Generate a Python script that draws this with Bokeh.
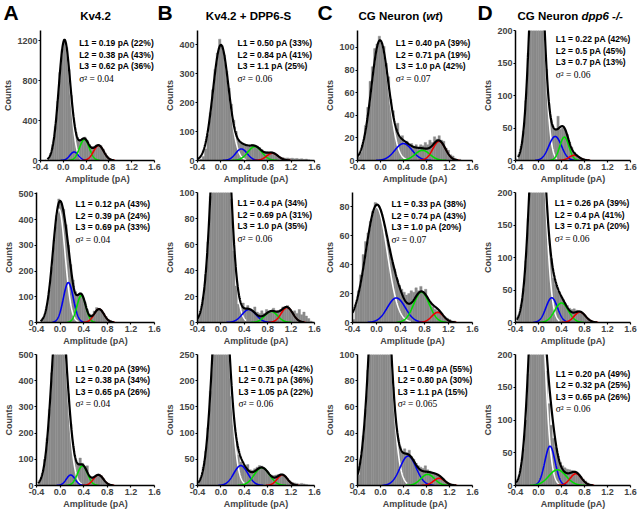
import numpy as np
from bokeh.plotting import figure
from bokeh.layouts import column, row
from bokeh.models import Label, FixedTicker, PrintfTickFormatter, Range1d
from bokeh.embed import file_html
from bokeh.resources import INLINE

# ------------------------------------------------------------------ data
BIN_CENTERS = [-0.38, -0.34, -0.30, -0.26, -0.22, -0.18, -0.14, -0.10, -0.06, -0.02,
               0.02, 0.06, 0.10, 0.14, 0.18, 0.22, 0.26, 0.30, 0.34, 0.38,
               0.42, 0.46, 0.50, 0.54, 0.58, 0.62, 0.66, 0.70, 0.74, 0.78,
               0.82, 0.86, 0.90, 0.94, 0.98, 1.02, 1.06, 1.10, 1.14, 1.18,
               1.22, 1.26, 1.30, 1.34, 1.38, 1.42, 1.46, 1.50, 1.54, 1.58]
BIN_WIDTH = 0.04
X_TICKS = [-0.4, 0.0, 0.4, 0.8, 1.2, 1.6]
X_LABEL = "Amplitude (pA)"
Y_LABEL = "Counts"
PANEL_LETTERS = ["A", "B", "C", "D"]
COLUMN_TITLES = [
    [("Kv4.2", "bold")],
    [("Kv4.2 + DPP6-S", "bold")],
    [("CG Neuron (", "bold"), ("wt", "bold italic"), (")", "bold")],
    [("CG Neuron ", "bold"), ("dpp6 -/-", "bold italic")],
]

# Gaussian fit components: [amplitude (counts), centre (pA), s.d. (pA)]
# ---- row 1
HIST_A1 = [0, 0, 6, 26, 70, 165, 340, 590, 880, 1110,
           1215, 1130, 910, 650, 420, 285, 215, 200, 215, 235,
           200, 160, 140, 140, 155, 160, 150, 115, 75, 40,
           18, 6, 3, 1, 0, 0, 0, 0, 0, 0,
           0, 0, 0, 0, 0, 0, 0, 0, 0, 0]
WHITE_A1 = [1200, 0.02, 0.10]
BLUE_A1 = [85, 0.19, 0.075]
GREEN_A1 = [210, 0.37, 0.085]
RED_A1 = [150, 0.62, 0.09]
TEXT_A1 = ["L1 = 0.19 pA (22%)", "L2 = 0.38 pA (43%)", "L3 = 0.62 pA (36%)"]
SIGMA_A1 = "σ² = 0.04"
YMAX_A1 = 1300
YTICKS_A1 = [0, 400, 800, 1200]

HIST_B1 = [1, 4, 14, 40, 90, 165, 245, 315, 372, 420,
           398, 365, 310, 250, 195, 140, 100, 72, 60, 55,
           50, 48, 52, 55, 53, 50, 45, 38, 32, 30,
           28, 30, 27, 22, 16, 12, 10, 8, 9, 7,
           8, 6, 7, 5, 6, 4, 5, 3, 1, 0]
WHITE_B1 = [400, 0.0, 0.135]
BLUE_B1 = [40, 0.35, 0.10]
GREEN_B1 = [48, 0.58, 0.12]
RED_B1 = [25, 0.88, 0.10]
TEXT_B1 = ["L1 = 0.50 pA (33%)", "L2 = 0.84 pA (41%)", "L3 = 1.1 pA (25%)"]
SIGMA_B1 = "σ² = 0.06"
YMAX_B1 = 450
YTICKS_B1 = [0, 100, 200, 300, 400]

HIST_C1 = [3, 7, 15, 31, 47, 70, 83, 99, 103, 110,
           104, 101, 86, 74, 54, 44, 29, 33, 20, 22,
           15, 17, 13, 15, 12, 14, 11, 14, 13, 16,
           14, 18, 16, 21, 19, 22, 18, 17, 11, 9,
           5, 4, 2, 1, 1, 0, 0, 0, 0, 0]
WHITE_C1 = [106, -0.01, 0.15]
BLUE_C1 = [15, 0.40, 0.15]
GREEN_C1 = [9, 0.73, 0.13]
RED_C1 = [17, 1.02, 0.11]
TEXT_C1 = ["L1 = 0.40 pA (39%)", "L2 = 0.71 pA (19%)", "L3 = 1.0 pA (42%)"]
SIGMA_C1 = "σ² = 0.07"
YMAX_C1 = 115
YTICKS_C1 = [0, 20, 40, 60, 80, 100]

HIST_D1 = [3, 9, 22, 45, 92, 165, 260, 350, 410, 420,
           380, 300, 215, 140, 88, 62, 50, 47, 68, 48,
           50, 47, 40, 28, 20, 13, 9, 6, 4, 3,
           2, 1, 0, 0, 0, 0, 0, 0, 0, 0,
           0, 0, 0, 0, 0, 0, 0, 0, 0, 0]
WHITE_D1 = [420, -0.03, 0.11]
BLUE_D1 = [37, 0.29, 0.11]
GREEN_D1 = [36, 0.45, 0.08]
RED_D1 = [8, 0.62, 0.09]
TEXT_D1 = ["L1 = 0.22 pA (42%)", "L2 = 0.5 pA (45%)", "L3 = 0.7 pA (13%)"]
SIGMA_D1 = "σ² = 0.06"
YMAX_D1 = 200
YTICKS_D1 = [0, 50, 100, 150, 200]

# ---- row 2
HIST_A2 = [1, 3, 10, 27, 62, 125, 215, 320, 415, 480,
           462, 440, 380, 300, 225, 165, 120, 108, 115, 103,
           80, 50, 33, 30, 45, 58, 55, 48, 35, 22,
           12, 8, 3, 1, 0, 0, 0, 0, 0, 0,
           0, 0, 0, 0, 0, 0, 0, 0, 0, 0]
WHITE_A2 = [440, -0.02, 0.105]
BLUE_A2 = [155, 0.14, 0.085]
GREEN_A2 = [105, 0.36, 0.075]
RED_A2 = [52, 0.66, 0.085]
TEXT_A2 = ["L1 = 0.12 pA (43%)", "L2 = 0.39 pA (24%)", "L3 = 0.69 pA (33%)"]
SIGMA_A2 = "σ² = 0.04"
YMAX_A2 = 505
YTICKS_A2 = [0, 100, 200, 300, 400, 500]

HIST_B2 = [4, 9, 19, 37, 62, 97, 140, 185, 215, 235,
           235, 215, 180, 135, 95, 55, 28, 14, 12, 15,
           11, 13, 10, 9, 12, 8, 7, 9, 7, 10,
           8, 9, 11, 8, 9, 10, 12, 11, 13, 10,
           8, 9, 7, 10, 6, 8, 5, 3, 1, 0]
WHITE_B2 = [240, 0.0, 0.135]
BLUE_B2 = [10, 0.48, 0.12]
GREEN_B2 = [8.5, 0.86, 0.11]
RED_B2 = [11.5, 1.13, 0.10]
TEXT_B2 = ["L1 = 0.4 pA (34%)", "L2 = 0.69 pA (31%)", "L3 = 1.0 pA (35%)"]
SIGMA_B2 = "σ² = 0.06"
YMAX_B2 = 100
YTICKS_B2 = [0, 20, 40, 60, 80, 100]

HIST_C2 = [2, 12, 22, 33, 47, 56, 62, 70, 77, 83,
           80, 78, 72, 64, 57, 51, 42, 37, 30, 26,
           23, 21, 19, 20, 22, 21, 24, 22, 25, 21,
           23, 16, 14, 11, 9, 8, 6, 5, 4, 3,
           2, 1, 1, 0, 0, 0, 0, 0, 0, 0]
WHITE_C2 = [80, 0.0, 0.18]
BLUE_C2 = [17, 0.33, 0.15]
GREEN_C2 = [21, 0.75, 0.13]
RED_C2 = [7, 1.02, 0.10]
TEXT_C2 = ["L1 = 0.33 pA (38%)", "L2 = 0.74 pA (43%)", "L3 = 1.0 pA (20%)"]
SIGMA_C2 = "σ² = 0.07"
YMAX_C2 = 90
YTICKS_C2 = [0, 20, 40, 60, 80]

HIST_D2 = [4, 12, 27, 52, 95, 160, 240, 320, 375, 400,
           390, 330, 250, 180, 130, 98, 68, 58, 48, 42,
           36, 30, 26, 22, 20, 21, 19, 16, 15, 12,
           9, 6, 3, 1, 0, 0, 0, 0, 0, 0,
           0, 0, 0, 0, 0, 0, 0, 0, 0, 0]
WHITE_D2 = [400, -0.02, 0.12]
BLUE_D2 = [38, 0.23, 0.10]
GREEN_D2 = [30, 0.40, 0.12]
RED_D2 = [16, 0.72, 0.10]
TEXT_D2 = ["L1 = 0.26 pA (39%)", "L2 = 0.4 pA  (41%)", "L3 = 0.71 pA (20%)"]
SIGMA_D2 = "σ² = 0.06"
YMAX_D2 = 200
YTICKS_D2 = [0, 50, 100, 150, 200]

# ---- row 3
HIST_A3 = [5, 18, 45, 100, 180, 290, 430, 580, 700, 750,
           735, 650, 500, 350, 235, 150, 98, 80, 105, 85,
           72, 75, 35, 30, 32, 40, 44, 38, 25, 12,
           5, 2, 1, 0, 0, 0, 0, 0, 0, 0,
           0, 0, 0, 0, 0, 0, 0, 0, 0, 0]
WHITE_A3 = [750, -0.015, 0.12]
BLUE_A3 = [40, 0.18, 0.075]
GREEN_A3 = [75, 0.38, 0.085]
RED_A3 = [40, 0.65, 0.085]
TEXT_A3 = ["L1 = 0.20 pA (39%)", "L2 = 0.38 pA (34%)", "L3 = 0.65 pA (26%)"]
SIGMA_A3 = "σ² = 0.04"
YMAX_A3 = 500
YTICKS_A3 = [0, 100, 200, 300, 400, 500]

HIST_B3 = [5, 14, 35, 65, 110, 180, 265, 360, 430, 470,
           465, 425, 350, 260, 170, 115, 80, 58, 45, 40,
           37, 40, 30, 29, 32, 35, 38, 37, 33, 27,
           22, 20, 19, 20, 21, 22, 20, 17, 13, 9,
           6, 5, 4, 3, 4, 3, 2, 1, 0, 0]
WHITE_B3 = [470, 0.0, 0.13]
BLUE_B3 = [38, 0.34, 0.12]
GREEN_B3 = [34, 0.70, 0.13]
RED_B3 = [20, 1.05, 0.09]
TEXT_B3 = ["L1 = 0.35 pA (42%)", "L2 = 0.71 pA (36%)", "L3 = 1.05 pA (22%)"]
SIGMA_B3 = "σ² = 0.06"
YMAX_B3 = 250
YTICKS_B3 = [0, 50, 100, 150, 200, 250]

HIST_C3 = [8, 20, 38, 58, 88, 125, 165, 200, 230, 242,
           238, 215, 185, 145, 105, 75, 50, 37, 30, 26,
           28, 25, 27, 22, 20, 17, 15, 14, 13, 15,
           12, 11, 10, 9, 8, 7, 6, 5, 3, 2,
           1, 1, 0, 0, 0, 0, 0, 0, 0, 0]
WHITE_C3 = [240, -0.01, 0.15]
BLUE_C3 = [22.5, 0.48, 0.14]
GREEN_C3 = [8.5, 0.82, 0.12]
RED_C3 = [5.5, 1.02, 0.10]
TEXT_C3 = ["L1 = 0.49 pA (55%)", "L2 = 0.80 pA (30%)", "L3 = 1.1 pA (15%)"]
SIGMA_C3 = "σ² = 0.065"
YMAX_C3 = 100
YTICKS_C3 = [0, 20, 40, 60, 80, 100]

HIST_D3 = [4, 12, 28, 55, 100, 170, 250, 330, 380, 400,
           370, 320, 240, 175, 125, 92, 72, 58, 45, 36,
           30, 27, 25, 24, 23, 22, 20, 17, 13, 10,
           7, 4, 2, 1, 0, 0, 0, 0, 0, 0,
           0, 0, 0, 0, 0, 0, 0, 0, 0, 0]
WHITE_D3 = [400, -0.03, 0.12]
BLUE_D3 = [60, 0.20, 0.09]
GREEN_D3 = [24, 0.33, 0.15]
RED_D3 = [18, 0.65, 0.10]
TEXT_D3 = ["L1 = 0.20 pA (49%)", "L2 = 0.32 pA (25%)", "L3 = 0.65 pA (26%)"]
SIGMA_D3 = "σ² = 0.06"
YMAX_D3 = 200
YTICKS_D3 = [0, 50, 100, 150, 200]

PANELS = [
    [(HIST_A1, [WHITE_A1, BLUE_A1, GREEN_A1, RED_A1], TEXT_A1, SIGMA_A1, YMAX_A1, YTICKS_A1),
     (HIST_B1, [WHITE_B1, BLUE_B1, GREEN_B1, RED_B1], TEXT_B1, SIGMA_B1, YMAX_B1, YTICKS_B1),
     (HIST_C1, [WHITE_C1, BLUE_C1, GREEN_C1, RED_C1], TEXT_C1, SIGMA_C1, YMAX_C1, YTICKS_C1),
     (HIST_D1, [WHITE_D1, BLUE_D1, GREEN_D1, RED_D1], TEXT_D1, SIGMA_D1, YMAX_D1, YTICKS_D1)],
    [(HIST_A2, [WHITE_A2, BLUE_A2, GREEN_A2, RED_A2], TEXT_A2, SIGMA_A2, YMAX_A2, YTICKS_A2),
     (HIST_B2, [WHITE_B2, BLUE_B2, GREEN_B2, RED_B2], TEXT_B2, SIGMA_B2, YMAX_B2, YTICKS_B2),
     (HIST_C2, [WHITE_C2, BLUE_C2, GREEN_C2, RED_C2], TEXT_C2, SIGMA_C2, YMAX_C2, YTICKS_C2),
     (HIST_D2, [WHITE_D2, BLUE_D2, GREEN_D2, RED_D2], TEXT_D2, SIGMA_D2, YMAX_D2, YTICKS_D2)],
    [(HIST_A3, [WHITE_A3, BLUE_A3, GREEN_A3, RED_A3], TEXT_A3, SIGMA_A3, YMAX_A3, YTICKS_A3),
     (HIST_B3, [WHITE_B3, BLUE_B3, GREEN_B3, RED_B3], TEXT_B3, SIGMA_B3, YMAX_B3, YTICKS_B3),
     (HIST_C3, [WHITE_C3, BLUE_C3, GREEN_C3, RED_C3], TEXT_C3, SIGMA_C3, YMAX_C3, YTICKS_C3),
     (HIST_D3, [WHITE_D3, BLUE_D3, GREEN_D3, RED_D3], TEXT_D3, SIGMA_D3, YMAX_D3, YTICKS_D3)],
]

# ------------------------------------------------------------------ style / layout
FONT = "Liberation Sans"
SERIF = "Liberation Serif"
GREY = "#898989"
COMP_COLORS = ["#ffffff", "#0000ee", "#00dd00", "#ee0000"]

PAGE_W = 640
HEADER_H = 24
COL_BL = [36, 32, 30, 30]
COL_FW = [118, 120, 120, 120]
COL_BR = [8, 8, 8, 10]
ROW_BT = [6, 6, 6]
ROW_FH = [131, 131, 131]
ROW_BB = [25, 25, 27]

# annotation block: left edge in px from the frame's left edge,
# first-line centre in px below the frame top
TEXT_PX = [[40, 41, 40, 42], [39, 41, 39, 41], [39, 42, 42, 42]]
TEXT_Y0 = [[13, 13, 13, 9], [12, 11, 12, 11], [14, 14, 14, 19]]
TEXT_SIZE = 8.5
LINE_STEP = 11.5
SIGMA_STEP = 12.5

# header (panel letters and column titles), x in page px
LETTER_X = [3, 157, 317, 477]
TITLE_POS = [[(95, "center")], [(248, "center")],
             [(358, "left"), (425.7, "left"), (438.5, "left")],
             [(517, "left"), (580.9, "left")]]
LETTER_SIZE = 21
LETTER_Y = 12
TITLE_Y = 9

XS = np.linspace(-0.4, 1.6, 601)


def gauss(x, comp):
    a, m, s = comp
    return a * np.exp(-(x - m) ** 2 / (2.0 * s * s))


def add_text(p, x, y, text, size, style="bold", font=FONT, align="left",
             baseline="middle"):
    p.add_layout(Label(x=x, y=y, text=text, text_font=font,
                       text_font_size=f"{size}px", text_font_style=style,
                       text_align=align, text_baseline=baseline,
                       text_color="black"))


def make_header():
    h = figure(width=PAGE_W, height=HEADER_H, x_range=Range1d(0, PAGE_W),
               y_range=Range1d(0, HEADER_H), output_backend="svg",
               toolbar_location=None, min_border_left=0, min_border_right=0,
               min_border_top=0, min_border_bottom=0)
    h.title.visible = False
    h.axis.visible = False
    h.grid.visible = False
    h.outline_line_color = None
    for c in range(4):
        add_text(h, LETTER_X[c], LETTER_Y, PANEL_LETTERS[c], LETTER_SIZE)
        for (txt, st), (px, al) in zip(COLUMN_TITLES[c], TITLE_POS[c]):
            add_text(h, px, TITLE_Y, txt, 11.5, style=st, align=al)
    return h


def make_panel(r, c, panel):
    hist, comps, lines, sig, ymax, yticks = panel
    fw, fh = COL_FW[c], ROW_FH[r]
    p = figure(width=COL_BL[c] + fw + COL_BR[c], height=ROW_BT[r] + fh + ROW_BB[r],
               x_range=Range1d(-0.4, 1.6), y_range=Range1d(0, ymax),
               output_backend="svg", toolbar_location=None,
               min_border_left=COL_BL[c], min_border_right=COL_BR[c],
               min_border_top=ROW_BT[r], min_border_bottom=ROW_BB[r])
    p.title.visible = False
    p.outline_line_color = None
    p.grid.visible = False
    p.background_fill_color = "white"
    p.border_fill_color = "white"

    p.xaxis.ticker = FixedTicker(ticks=X_TICKS, minor_ticks=[])
    p.xaxis.formatter = PrintfTickFormatter(format="%.1f")
    p.yaxis.ticker = FixedTicker(ticks=yticks, minor_ticks=[])
    p.yaxis.formatter = PrintfTickFormatter(format="%d")
    p.xaxis.axis_label = X_LABEL
    p.yaxis.axis_label = Y_LABEL
    for ax in p.axis:
        ax.major_label_text_font = FONT
        ax.major_label_text_font_style = "bold"
        ax.major_label_text_font_size = "9px"
        ax.axis_label_text_font = FONT
        ax.axis_label_text_font_style = "bold"
        ax.axis_label_text_font_size = "9px"
        ax.axis_label_standoff = 1
        ax.axis_line_width = 1.5
        ax.major_tick_line_width = 1.2
        ax.major_tick_out = 2
        ax.major_tick_in = 0
        ax.minor_tick_line_color = None
        ax.major_label_standoff = 1

    # histogram
    p.vbar(x=BIN_CENTERS, top=hist, width=BIN_WIDTH, bottom=0,
           fill_color=GREY, line_color=GREY, line_width=0.4)

    # gaussian components and their sum
    lo = max(-0.4, min(m - 3 * s for _, m, s in comps))
    hi = min(1.6, max(m + 3 * s for _, m, s in comps))
    for comp, col in zip(comps, COMP_COLORS):
        a, m, s = comp
        mask = (XS >= m - 3.2 * s) & (XS <= m + 3.2 * s)
        p.line(XS[mask], gauss(XS[mask], comp), line_color=col, line_width=1.6)
    mask = (XS >= lo) & (XS <= hi)
    total = sum(gauss(XS[mask], comp) for comp in comps)
    p.line(XS[mask], total, line_color="black", line_width=2.2)

    # annotations (placed in data space, kept inside the frame)
    tx = -0.4 + 2.0 * TEXT_PX[r][c] / fw
    y0 = TEXT_Y0[r][c]
    per_px = ymax / fh
    for i, t in enumerate(lines):
        add_text(p, tx, ymax - (y0 + i * LINE_STEP) * per_px, t, TEXT_SIZE)
    add_text(p, tx, ymax - (y0 + 2 * LINE_STEP + SIGMA_STEP) * per_px, sig, 9.5,
             style="normal", font=SERIF)
    return p


rows = [make_header()]
for r in range(3):
    rows.append(row(*[make_panel(r, c, PANELS[r][c]) for c in range(4)]))
layout = column(*rows)

open("out.html", "w").write(file_html(layout, INLINE))
